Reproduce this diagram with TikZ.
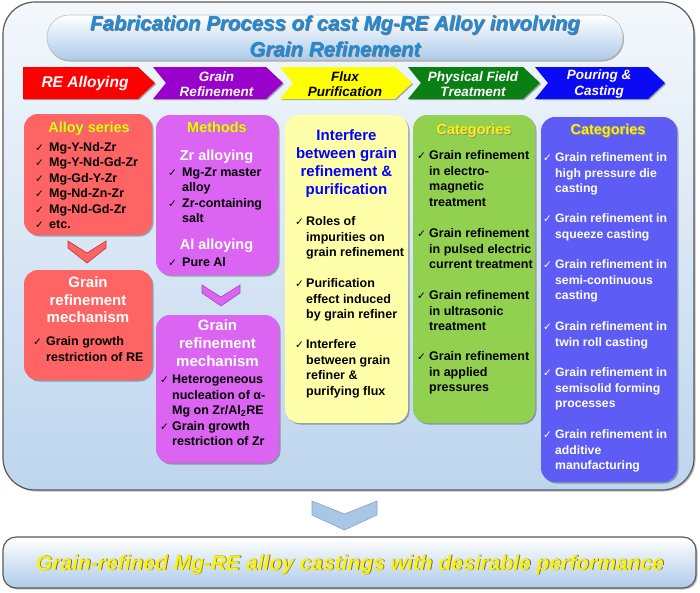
\documentclass[tikz,border=0pt]{standalone}
\usepackage{fontspec}
\setmainfont{Liberation Sans}
\newfontfamily\chkfnt{DejaVu Sans}
\usetikzlibrary{shadows}
\definecolor{outerTop}{HTML}{F4F8FC}
\definecolor{outerBot}{HTML}{BDD5EE}
\definecolor{pillBot}{HTML}{AECBEA}
\definecolor{titleBlue}{HTML}{1E8CDC}
\definecolor{boxRed}{HTML}{FF6464}
\definecolor{boxPurple}{HTML}{DC64F2}
\definecolor{boxYellow}{HTML}{FFFFAA}
\definecolor{boxGreen}{HTML}{92D050}
\definecolor{boxBlue}{HTML}{5D5DF5}
\definecolor{arRed}{HTML}{FF0000}
\definecolor{arPurple}{HTML}{9900CC}
\definecolor{arYellow}{HTML}{FFFF00}
\definecolor{arGreen}{HTML}{0A7F14}
\definecolor{arBlue}{HTML}{0A0AF5}
\definecolor{chevBlue}{HTML}{A9C6E6}
\definecolor{chevBlueD}{HTML}{7FA5CF}
\newcommand\itemfont{\fontsize{12.5}{15}\selectfont\bfseries}
\newcommand\headfont{\fontsize{14.5}{17}\selectfont\bfseries}
\newcommand\mechfont{\fontsize{15}{18}\selectfont\bfseries}
\newcommand\shd[2]{\makebox[0pt][l]{\hspace{0.9pt}\raisebox{-0.9pt}{\textcolor{#1}{#2}}}#2}
\newcommand\itm[5]{%
  \node[chk] (#1c) at (#2,#4) {✓};
  \foreach \t [count=\i from 0] in {#5} {\node[itemtxt] (#1l\i) at (#3,#4+\i*15.5) {\t};}%
}
\begin{document}
\begin{tikzpicture}[x=1pt,y=-1pt,
  box/.style={rectangle, rounded corners=14pt, inner sep=0pt, draw=none,
    drop shadow={shadow xshift=1.5pt, shadow yshift=-1.5pt, opacity=0.3, fill=black}},
  itemtxt/.style={anchor=base west, inner sep=0pt, font=\itemfont},
  chk/.style={anchor=base west, inner sep=0pt, font=\chkfnt\fontsize{10.5}{11}\selectfont},
  head/.style={anchor=base, inner sep=0pt, font=\headfont, text=yellow},
  mech/.style={anchor=base, inner sep=0pt, font=\mechfont, text=white},
  artxt/.style={inner sep=0pt, align=center, font=\fontsize{13.5}{15.5}\selectfont\bfseries\itshape, text=white},
  arshape/.style={drop shadow={shadow xshift=1.2pt, shadow yshift=-1.2pt, opacity=0.3, fill=black}},
  chev/.style={line width=0.6pt, line join=miter}
]
\useasboundingbox (0,0) rectangle (700,592);

% outer panel
\draw[draw=black!65, line width=1.2pt, rounded corners=32pt, top color=outerTop, bottom color=outerBot,
  drop shadow={shadow xshift=1.5pt, shadow yshift=-1.5pt, opacity=0.25, fill=black}]
  (3,2) rectangle (694,490);

% title pill
\draw[draw=black!25, line width=0.6pt, rounded corners=22pt, top color=white, bottom color=pillBot,
  drop shadow={shadow xshift=1pt, shadow yshift=-1.5pt, opacity=0.3, fill=black}]
  (47,15) rectangle (623,60);
\node[anchor=base, inner sep=0pt, font=\fontsize{20.5}{24}\selectfont\bfseries\itshape, text=titleBlue]
  (title1) at (335,30.5) {\shd{black!55}{Fabrication Process of cast Mg-RE Alloy involving}};
\node[anchor=base, inner sep=0pt, font=\fontsize{20.5}{24}\selectfont\bfseries\itshape, text=titleBlue]
  (title2) at (335,56.5) {\shd{black!55}{Grain Refinement}};

% process arrows
\fill[arRed, arshape] (23,67) -- (138,67) -- (155,83) -- (138,99) -- (23,99) -- cycle;
\fill[arPurple, arshape] (153,67) -- (266,67) -- (283,83) -- (266,99) -- (153,99) -- (166,83) -- cycle;
\fill[arYellow, arshape] (280,67) -- (395,67) -- (412,83) -- (395,99) -- (280,99) -- (293,83) -- cycle;
\fill[arGreen, arshape] (408,67) -- (523,67) -- (540,83) -- (523,99) -- (408,99) -- (421,83) -- cycle;
\fill[arBlue, arshape] (535,67) -- (648,67) -- (665,83) -- (648,99) -- (535,99) -- (548,83) -- cycle;
\node[artxt, font=\fontsize{15.5}{17}\selectfont\bfseries\itshape] (arRE) at (85,83.5) {RE Alloying};
\node[artxt] (arGR) at (216.5,84) {Grain\\Refinement};
\node[artxt, text=black] (arFP) at (345,84) {Flux\\Purification};
\node[artxt] (arPF) at (473,84) {Physical Field\\Treatment};
\node[artxt] (arPC) at (599,84) {Pouring \&\\Casting};

% boxes
\node[box, fill=boxRed, minimum width=128pt, minimum height=121pt] (redA) at (88,174.5) {};
\node[box, fill=boxRed, minimum width=128pt, minimum height=110pt] (redB) at (88,325) {};
\node[box, fill=boxPurple, minimum width=122pt, minimum height=160pt] (purA) at (217,195) {};
\node[box, fill=boxPurple, minimum width=123pt, minimum height=148pt] (purB) at (217.5,389) {};
\node[box, fill=boxYellow, minimum width=123pt, minimum height=308pt] (yel) at (346.5,269) {};
\node[box, fill=boxGreen, minimum width=122pt, minimum height=308pt] (grn) at (474,269) {};
\node[box, fill=boxBlue, minimum width=136pt, minimum height=365pt] (blu) at (609,299.5) {};

% small chevrons
\draw[chev, fill=boxRed, draw=red!70!black!80] (68,241) -- (87,253) -- (106,241) -- (106,248) -- (87,263) -- (68,248) -- cycle;
\draw[chev, fill=boxPurple, draw=boxPurple!75!black] (202,285) -- (221,297) -- (240,285) -- (240,293) -- (221,306) -- (202,293) -- cycle;

% red box A
\node[head] (hRA) at (89,132) {\shd{black!45}{Alloy series}};
\itm{raa}{35}{49}{151}{Mg-Y-Nd-Zr}
\itm{rab}{35}{49}{166.5}{Mg-Y-Nd-Gd-Zr}
\itm{rac}{35}{49}{182}{Mg-Gd-Y-Zr}
\itm{rad}{35}{49}{197.5}{Mg-Nd-Zn-Zr}
\itm{rae}{35}{49}{213}{Mg-Nd-Gd-Zr}
\itm{raf}{35}{49}{228.5}{etc.}

% red box B
\node[mech] (hRB1) at (88,287.5) {Grain};
\node[mech] (hRB2) at (88,305) {refinement};
\node[mech] (hRB3) at (88,322.5) {mechanism};
\itm{rba}{33}{46}{345.5}{Grain growth,restriction of RE}

% purple box A
\node[head] (hPA) at (217,132) {\shd{black!45}{Methods}};
\node[mech, font=\headfont] (hZr) at (216.5,160.5) {Zr alloying};
\itm{paa}{168}{182}{176}{Mg-Zr master,alloy}
\itm{pab}{168}{182}{207}{Zr-containing,salt}
\node[mech, font=\headfont] (hAl) at (216.5,249.5) {Al alloying};
\itm{pac}{168}{182}{266.5}{Pure Al}

% purple box B
\node[mech] (hPB1) at (217.5,330.5) {Grain};
\node[mech] (hPB2) at (217.5,348.5) {refinement};
\node[mech] (hPB3) at (217.5,366.5) {mechanism};
\itm{pba}{160}{172}{383.5}{Heterogeneous,nucleation of α-,Mg on Zr/Al\textsubscript{2}RE}
\itm{pbb}{160}{172}{430}{Grain growth,restriction of Zr}

% yellow box
\node[mech, text=blue] (hY1) at (346.5,140.5) {Interfere};
\node[mech, text=blue] (hY2) at (346.5,158.5) {between grain};
\node[mech, text=blue] (hY3) at (346.5,176.5) {refinement \&};
\node[mech, text=blue] (hY4) at (346.5,194.5) {purification};
\itm{ya}{295}{306}{225.5}{Roles of,impurities on,grain refinement}
\itm{yb}{295}{306}{287.5}{Purification,effect induced,by grain refiner}
\itm{yc}{295}{306}{348.5}{Interfere,between grain,refiner \&,purifying flux}

% green box
\node[head] (hG) at (474,134.5) {\shd{black!45}{Categories}};
\itm{ga}{417}{429}{159.5}{Grain refinement,in electro-,magnetic,treatment}
\itm{gb}{417}{429}{237.5}{Grain refinement,in pulsed electric,current treatment}
\itm{gc}{417}{429}{299.5}{Grain refinement,in ultrasonic,treatment}
\itm{gd}{417}{429}{360.5}{Grain refinement,in applied,pressures}

% blue box
\node[head] (hB) at (608,134.5) {\shd{black!45}{Categories}};
\begin{scope}[every node/.append style={text=white},
  itemtxt/.append style={font=\fontsize{12.2}{15}\selectfont\bfseries}]
\itm{ba}{543}{555}{161.5}{Grain refinement in,high pressure die,casting}
\itm{bb}{543}{555}{222.5}{Grain refinement in,squeeze casting}
\itm{bc}{543}{555}{268.5}{Grain refinement in,semi-continuous,casting}
\itm{bd}{543}{555}{330.5}{Grain refinement in,twin roll casting}
\itm{be}{543}{555}{376.5}{Grain refinement in,semisolid forming,processes}
\itm{bf}{543}{555}{438.5}{Grain refinement in,additive,manufacturing}
\end{scope}

% big down chevron
\draw[chev, fill=chevBlue, draw=chevBlueD] (312,501) -- (344.5,514) -- (377,501) -- (377,515) -- (344.5,530) -- (312,515) -- cycle;

% bottom pill
\draw[draw=black!65, line width=1.2pt, rounded corners=13pt, top color=white, bottom color=pillBot,
  drop shadow={shadow xshift=1.5pt, shadow yshift=-1.5pt, opacity=0.25, fill=black}]
  (3,537) rectangle (696,588);
\node[anchor=base, inner sep=0pt, font=\fontsize{21}{24}\selectfont\bfseries\itshape, text=yellow]
  (result) at (350,570) {\shd{black!60}{Grain-refined Mg-RE alloy castings with desirable performance}};
\end{tikzpicture}
\end{document}
